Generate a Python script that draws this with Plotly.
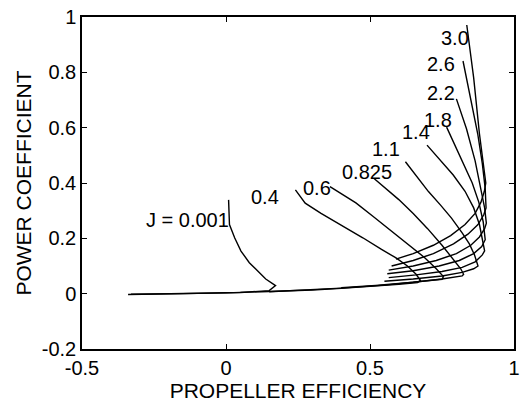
import plotly.graph_objects as go

# ---- data (propeller efficiency, power coefficient) per advance ratio J ----
J_labels = ["J = 0.001", "0.4", "0.6", "0.825", "1.1", "1.4", "1.8", "2.2", "2.6", "3.0"]

eff_J0001 = [0.009, 0.012, 0.030, 0.052, 0.081, 0.110, 0.138, 0.172, 0.150, 0.05, -0.1, -0.25, -0.34]
cp_J0001 = [0.339, 0.250, 0.202, 0.154, 0.112, 0.082, 0.053, 0.029, 0.011, 0.004, 0.001, -0.001, -0.003]

eff_J04 = [0.241, 0.275, 0.33, 0.40, 0.475, 0.54, 0.589, 0.63, 0.66, 0.675, 0.665, 0.60, 0.50, 0.40, 0.30, 0.20, 0.10, 0.0, -0.15, -0.33]
cp_J04 = [0.375, 0.327, 0.29, 0.248, 0.202, 0.16, 0.13, 0.10, 0.07, 0.048, 0.040, 0.034, 0.026, 0.019, 0.013, 0.009, 0.005, 0.003, 0.0, -0.002]

eff_J06 = [0.361, 0.40, 0.451, 0.51, 0.57, 0.634, 0.69, 0.73, 0.755, 0.75, 0.68, 0.55, 0.40, 0.25, 0.15]
cp_J06 = [0.387, 0.362, 0.328, 0.28, 0.23, 0.18, 0.13, 0.09, 0.062, 0.052, 0.044, 0.031, 0.020, 0.011, 0.007]

eff_J0825 = [0.514, 0.55, 0.60, 0.65, 0.70, 0.75, 0.79, 0.815, 0.825, 0.82, 0.75, 0.65, 0.52, 0.40]
cp_J0825 = [0.416, 0.385, 0.34, 0.29, 0.235, 0.175, 0.125, 0.09, 0.07, 0.064, 0.053, 0.041, 0.030, 0.022]

eff_J11 = [0.623, 0.669, 0.703, 0.745, 0.783, 0.82, 0.845, 0.863, 0.872, 0.875, 0.86, 0.82, 0.75, 0.65, 0.55]
cp_J11 = [0.477, 0.417, 0.369, 0.32, 0.273, 0.22, 0.18, 0.14, 0.11, 0.10, 0.09, 0.077, 0.064, 0.053, 0.045]

eff_J14 = [0.698, 0.737, 0.789, 0.83, 0.86, 0.88, 0.893, 0.898, 0.89, 0.865, 0.82, 0.75, 0.66, 0.565]
cp_J14 = [0.537, 0.489, 0.429, 0.37, 0.31, 0.25, 0.19, 0.155, 0.14, 0.115, 0.095, 0.08, 0.068, 0.058]

eff_J18 = [0.766, 0.817, 0.855, 0.878, 0.893, 0.90, 0.888, 0.86, 0.81, 0.74, 0.65, 0.56]
cp_J18 = [0.602, 0.489, 0.40, 0.33, 0.26, 0.195, 0.17, 0.145, 0.12, 0.10, 0.083, 0.072]

eff_J22 = [0.800, 0.835, 0.865, 0.885, 0.898, 0.904, 0.898, 0.88, 0.85, 0.80, 0.73, 0.65, 0.565]
cp_J22 = [0.704, 0.596, 0.48, 0.38, 0.31, 0.255, 0.235, 0.205, 0.175, 0.145, 0.12, 0.10, 0.085]

eff_J26 = [0.823, 0.85, 0.874, 0.89, 0.90, 0.903, 0.895, 0.875, 0.84, 0.79, 0.72, 0.65, 0.575]
cp_J26 = [0.841, 0.70, 0.578, 0.47, 0.38, 0.31, 0.285, 0.25, 0.215, 0.18, 0.145, 0.12, 0.10]

eff_J30 = [0.836, 0.86, 0.880, 0.893, 0.90, 0.902, 0.897, 0.885, 0.865, 0.83, 0.78, 0.72, 0.65, 0.59]
cp_J30 = [0.971, 0.78, 0.578, 0.47, 0.42, 0.40, 0.37, 0.33, 0.29, 0.25, 0.21, 0.175, 0.145, 0.125]

curves = [
    (eff_J0001, cp_J0001), (eff_J04, cp_J04), (eff_J06, cp_J06), (eff_J0825, cp_J0825),
    (eff_J11, cp_J11), (eff_J14, cp_J14), (eff_J18, cp_J18), (eff_J22, cp_J22),
    (eff_J26, cp_J26), (eff_J30, cp_J30),
]

# label positions (data coords)
label_x = [-0.134, 0.135, 0.315, 0.491, 0.555, 0.659, 0.736, 0.748, 0.745, 0.796]
label_y = [0.265, 0.349, 0.382, 0.441, 0.522, 0.584, 0.629, 0.724, 0.830, 0.923]

x_ticks = [-0.5, 0, 0.5, 1]
x_tick_text = ["-0.5", "0", "0.5", "1"]
y_ticks = [-0.2, 0, 0.2, 0.4, 0.6, 0.8, 1]
y_tick_text = ["-0.2", "0", "0.2", "0.4", "0.6", "0.8", "1"]

FONT = "Liberation Sans, Arial, sans-serif"

fig = go.Figure()
for (xs, ys), name in zip(curves, J_labels):
    fig.add_trace(go.Scatter(x=xs, y=ys, mode="lines", name=name,
                             line=dict(color="black", width=1.4), showlegend=False))

for tx, ty, t in zip(label_x, label_y, J_labels):
    fig.add_annotation(x=tx, y=ty, text=t, showarrow=False,
                       font=dict(family=FONT, size=20, color="black"),
                       xanchor="center", yanchor="middle")

axis_common = dict(showgrid=False, zeroline=False, showline=True, linecolor="black",
                   linewidth=1.5, mirror="ticks", ticks="inside", ticklen=5,
                   tickcolor="black", tickwidth=1,
                   tickfont=dict(family=FONT, size=20, color="black"))

fig.update_layout(
    width=526, height=405,
    margin=dict(l=82, r=6, t=14, b=56),
    paper_bgcolor="white", plot_bgcolor="white",
    xaxis=dict(range=[-0.5, 1], tickvals=x_ticks, ticktext=x_tick_text,
               title=dict(text="PROPELLER EFFICIENCY", standoff=6,
                          font=dict(family=FONT, size=21, color="black")),
               **axis_common),
    yaxis=dict(range=[-0.2, 1], tickvals=y_ticks, ticktext=y_tick_text,
               title=dict(text="POWER COEFFICIENT", standoff=4,
                          font=dict(family=FONT, size=21, color="black")),
               **axis_common),
)

fig.write_html("out.html")
